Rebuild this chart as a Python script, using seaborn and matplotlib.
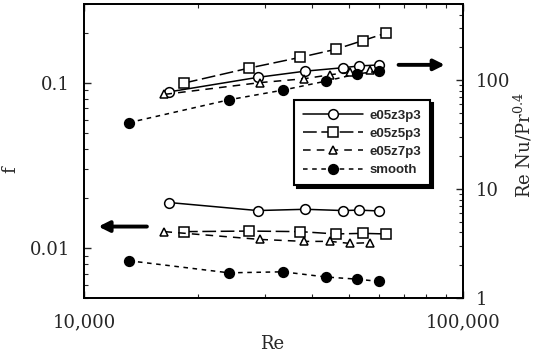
import numpy as np
import pandas as pd
import matplotlib
matplotlib.use("Agg")
import matplotlib.pyplot as plt
import seaborn as sns
from matplotlib.ticker import LogLocator, NullFormatter
from matplotlib.lines import Line2D

sns.set_style("ticks")
plt.rcParams['font.family'] = ['DejaVu Serif']
plt.rcParams['mathtext.fontset'] = 'dejavuserif'

# ---------------- data ----------------
series_names = ["e05z3p3", "e05z5p3", "e05z7p3", "smooth"]

re_z3 = [16760, 28700, 38400, 48250, 53150, 60200]
nu_z3 = [78, 106, 121, 130, 135, 138]
f_z3 = [0.0189, 0.0169, 0.0172, 0.0169, 0.0170, 0.0168]

re_z5 = [18360, 27250, 37230, 46180, 54470, 62600]
nu_z5 = [94, 129, 162, 192, 231, 270]
f_z5 = [0.0126, 0.0127, 0.0126, 0.0122, 0.0123, 0.0122]

re_z7 = [16300, 29200, 38100, 44600, 50200, 56800]
nu_z7 = [74, 95, 103, 112, 118, 124]
f_z7 = [0.0126, 0.0113, 0.0110, 0.0110, 0.0107, 0.0108]

re_sm = [13130, 24130, 33500, 43500, 52500, 60000]
nu_sm = [40.7, 66, 81, 98, 114, 121]
f_sm = [0.0084, 0.0071, 0.0072, 0.0067, 0.0065, 0.0063]

x_ticks = [1e4, 1e5]
x_ticklabels = ["10,000", "100,000"]
f_ticks = [0.01, 0.1]
f_ticklabels = ["0.01", "0.1"]
nu_ticks = [1, 10, 100]
nu_ticklabels = ["1", "10", "100"]

data = {
    "e05z3p3": (re_z3, nu_z3, f_z3),
    "e05z5p3": (re_z5, nu_z5, f_z5),
    "e05z7p3": (re_z7, nu_z7, f_z7),
    "smooth": (re_sm, nu_sm, f_sm),
}

styles = {
    "e05z3p3": dict(marker="o", linestyle="-", markerfacecolor="white", markersize=7),
    "e05z5p3": dict(marker="s", linestyle=(0, (9, 3)), markerfacecolor="white", markersize=7),
    "e05z7p3": dict(marker="^", linestyle=(0, (5, 4)), markerfacecolor="white", markersize=6),
    "smooth": dict(marker="o", linestyle=(0, (3, 3)), markerfacecolor="black", markersize=7),
}

# ---------------- figure ----------------
W, H = 545, 355
fig = plt.figure(figsize=(W / 100, H / 100), dpi=100)
L, R, T, B = 84, 463, 4, 298
ax = fig.add_axes([L / W, 1 - B / H, (R - L) / W, (B - T) / H])
ax2 = ax.twinx()

common = dict(color="black", markeredgecolor="black", markeredgewidth=1.1,
              linewidth=1.1, sort=False, legend=False, errorbar=None)

for name in series_names:
    re, nu, f = data[name]
    df = pd.DataFrame({"Re": re, "Nu": nu, "f": f})
    sns.lineplot(data=df, x="Re", y="f", ax=ax, **styles[name], **common)
    sns.lineplot(data=df, x="Re", y="Nu", ax=ax2, **styles[name], **common)

# axes scales
for a in (ax, ax2):
    a.set_xscale("log")
    a.set_xlim(1e4, 1e5)
ax.set_yscale("log")
ax.set_ylim(0.005, 0.3)
ax2.set_yscale("log")
ax2.set_ylim(1, 500)

ax.set_xticks(x_ticks)
ax.set_xticklabels(x_ticklabels)
ax.xaxis.set_minor_locator(LogLocator(base=10, subs=np.arange(2, 10)))
ax.xaxis.set_minor_formatter(NullFormatter())
ax.set_yticks(f_ticks)
ax.set_yticklabels(f_ticklabels)
ax.yaxis.set_minor_locator(LogLocator(base=10, subs=np.arange(2, 10)))
ax.yaxis.set_minor_formatter(NullFormatter())
ax2.set_yticks(nu_ticks)
ax2.set_yticklabels(nu_ticklabels)
ax2.yaxis.set_minor_locator(LogLocator(base=10, subs=np.arange(2, 10)))
ax2.yaxis.set_minor_formatter(NullFormatter())

ax.tick_params(axis="x", which="both", direction="in", top=True, bottom=True)
ax.tick_params(axis="x", which="major", length=5, width=1, pad=11, labelsize=13)
ax.tick_params(axis="x", which="minor", length=3, width=0.8)
ax.tick_params(axis="y", which="both", direction="in", left=True, right=False)
ax.tick_params(axis="y", which="major", length=5, width=1, pad=10, labelsize=13)
ax.tick_params(axis="y", which="minor", length=3, width=0.8)
ax2.tick_params(axis="y", which="both", direction="in", right=True, left=False)
ax2.tick_params(axis="y", which="major", length=5, width=1, pad=9, labelsize=13)
ax2.tick_params(axis="y", which="minor", length=3, width=0.8)

for a in (ax, ax2):
    for s in a.spines.values():
        s.set_linewidth(1.3)
        s.set_color("black")

ax.set_xlabel("Re", fontsize=13)
ax.xaxis.set_label_coords(0.496, -0.125)
ax.set_ylabel("f", fontsize=13)
ax.yaxis.set_label_coords(-0.17, 0.435)
ax2.set_ylabel(r"Re Nu/Pr$^{0.4}$", fontsize=13)
ax2.yaxis.set_label_coords(1.13, 0.52)

# arrows
ax2.annotate("", xy=(0.952, 0.793), xytext=(0.83, 0.793), xycoords="axes fraction",
             arrowprops=dict(arrowstyle="-|>", lw=2.8, color="black", mutation_scale=16,
                             shrinkA=0, shrinkB=0))
ax2.annotate("", xy=(0.038, 0.243), xytext=(0.166, 0.243), xycoords="axes fraction",
             arrowprops=dict(arrowstyle="-|>", lw=2.8, color="black", mutation_scale=16,
                             shrinkA=0, shrinkB=0))

# legend
handles = [Line2D([0], [0], color="black", markeredgecolor="black", markeredgewidth=1.1,
                  linewidth=1.1, **styles[n]) for n in series_names]
leg = ax2.legend(handles, series_names, loc="upper left", bbox_to_anchor=(0.554, 0.673),
                 frameon=True, fancybox=False, edgecolor="black", framealpha=1,
                 shadow={"color": "black", "alpha": 1},
                 prop={"family": "Liberation Sans", "weight": "bold", "size": 9.5},
                 handlelength=4.5, handletextpad=0.5, borderpad=0.7, labelspacing=0.45,
                 borderaxespad=0)
leg.get_frame().set_linewidth(1.5)

fig.savefig("out.png", dpi=100)
